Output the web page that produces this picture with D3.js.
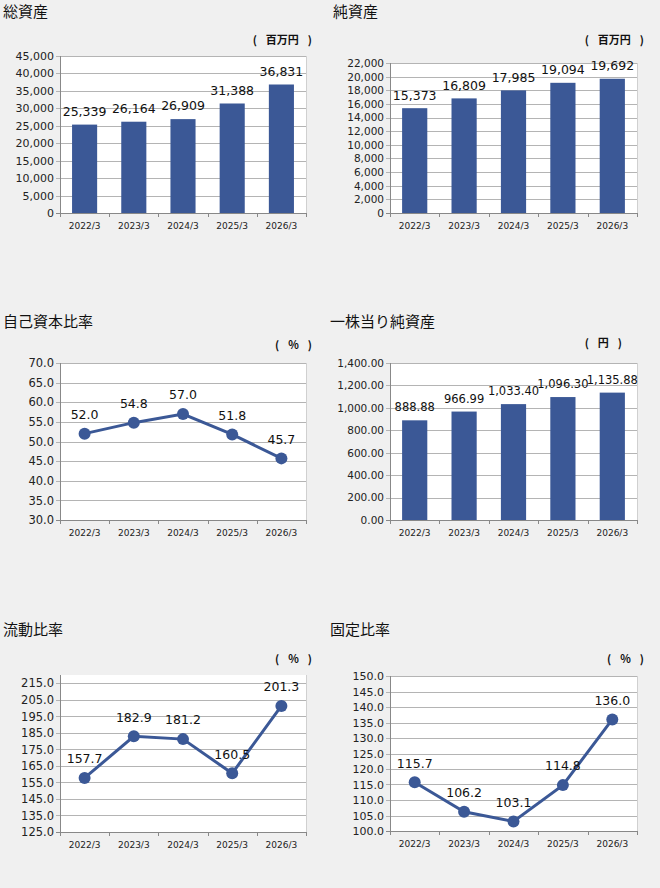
<!DOCTYPE html>
<html>
<head>
<meta charset="utf-8">
<script src="https://cdn.jsdelivr.net/npm/d3@7"></script>
<style>
  body { margin: 0; background: #f0f0f0; }
  svg text { font-family: "DejaVu Sans", "Noto Sans CJK JP", sans-serif; }
  svg text.jp { font-family: "Noto Sans CJK JP", sans-serif; }
</style>
</head>
<body>
<div id="charts"></div>
<script>
// data
var categories = ["2022/3", "2023/3", "2024/3", "2025/3", "2026/3"];
var totalAssets = [25339, 26164, 26909, 31388, 36831];
var netAssets = [15373, 16809, 17985, 19094, 19692];
var equityRatio = [52.0, 54.8, 57.0, 51.8, 45.7];
var bookValuePerShare = [888.88, 966.99, 1033.40, 1096.30, 1135.88];
var currentRatio = [157.7, 182.9, 181.2, 160.5, 201.3];
var fixedRatio = [115.7, 106.2, 103.1, 114.8, 136.0];

var titles = ["総資産", "純資産", "自己資本比率", "一株当り純資産", "流動比率", "固定比率"];
var units = ["百万円", "百万円", "%", "円", "%", "%"];

var barColor = "#3b5896";
var width = 660, height = 888;

var svg = d3.select("#charts").append("svg")
    .attr("width", width)
    .attr("height", height);

// panel layout
var panels = [
    {values: totalAssets, type: "bar", min: 0, max: 45000, step: 5000, dec: 0, tickFont: 11,
     x0: 60, x1: 306, top: 56, bottom: 213, titleX: 3, titleY: 12, unitX: 312, unitY: 40},
    {values: netAssets, type: "bar", min: 0, max: 22000, step: 2000, dec: 0, tickFont: 10.5,
     x0: 390, x1: 637, top: 63, bottom: 213, titleX: 333, titleY: 12, unitX: 644, unitY: 40},
    {values: equityRatio, type: "line", min: 30, max: 70, step: 5, dec: 1, tickFont: 11.5,
     x0: 60, x1: 306, top: 363, bottom: 520, titleX: 3, titleY: 322, unitX: 312, unitY: 345},
    {values: bookValuePerShare, type: "bar", min: 0, max: 1400, step: 200, dec: 2, tickFont: 10.5,
     x0: 390, x1: 637, top: 363, bottom: 520, titleX: 330, titleY: 322, unitX: 622, unitY: 343},
    {values: currentRatio, type: "line", min: 125, max: 220, step: 10, dec: 1, tickFont: 11.5,
     x0: 60, x1: 306, top: 675, bottom: 832, titleX: 3, titleY: 630, unitX: 312, unitY: 659},
    {values: fixedRatio, type: "line", min: 100, max: 150, step: 5, dec: 1, tickFont: 11,
     x0: 390, x1: 637, top: 676, bottom: 831, titleX: 330, titleY: 630, unitX: 644, unitY: 659}
];

    function drawPanel(p, i){
        var g = svg.append("g");

        g.append("text")
            .attr("class", "jp")
            .attr("x", p.titleX)
            .attr("y", p.titleY)
            .attr("dy", "0.35em")
            .style("font-size", "15px")
            .style("fill", "#111")
            .text(titles[i]);

        // unit label, with the wide gaps the original shows
        var u = g.append("text")
            .attr("class", "jp")
            .attr("x", p.unitX)
            .attr("y", p.unitY)
            .attr("dy", "0.35em")
            .attr("text-anchor", "end")
            .style("font-size", "11px")
            .style("font-weight", "bold")
            .style("fill", "#111");
        u.append("tspan").text("(");
        u.append("tspan").attr("dx", 9).text(units[i]);
        u.append("tspan").attr("dx", 9).text(")");

        var x = d3.scaleBand().domain(categories).range([p.x0, p.x1]).paddingInner(0).paddingOuter(0);
        var y = d3.scaleLinear().domain([p.min, p.max]).range([p.bottom, p.top]);

        // plot area
        g.append("rect")
            .attr("x", p.x0).attr("y", p.top)
            .attr("width", p.x1 - p.x0).attr("height", p.bottom - p.top)
            .style("fill", "#fff");

        var ticks = d3.range(p.min, p.max + p.step / 2, p.step);
        var fmt = d3.format(",." + p.dec + "f");

        g.append("g")
            .attr("transform", "translate(" + p.x0 + ",0)")
            .call(d3.axisLeft(y).tickValues(ticks).tickSize(0).tickPadding(6).tickFormat(fmt))
            .call(function(a){ a.select(".domain").remove(); })
            .selectAll("text")
            .style("font-size", p.tickFont + "px")
            .style("font-family", "DejaVu Sans")
            .style("fill", "#222");

        // gridlines
        g.append("g").selectAll("line").data(ticks).enter().append("line")
            .attr("x1", p.x0 - 4).attr("x2", p.x1)
            .attr("y1", function(d){ return Math.round(y(d)) + 0.5; })
            .attr("y2", function(d){ return Math.round(y(d)) + 0.5; })
            .style("stroke", function(d){ return d === p.min ? "#888" : "#b4b4b4"; })
            .style("stroke-width", 1);

        // right border of plot area
        g.append("line")
            .attr("x1", p.x1 + 0.5).attr("x2", p.x1 + 0.5)
            .attr("y1", p.top).attr("y2", p.bottom)
            .style("stroke", "#d0d0d0");

        // y axis line
        g.append("line")
            .attr("x1", p.x0 + 0.5).attr("x2", p.x0 + 0.5)
            .attr("y1", p.top).attr("y2", p.bottom)
            .style("stroke", "#888");

        // category ticks
        var bounds = categories.map(function(c){ return x(c); }).concat([p.x1]);
        g.append("g").selectAll("line").data(bounds).enter().append("line")
            .attr("x1", function(d){ return Math.round(d) + 0.5; })
            .attr("x2", function(d){ return Math.round(d) + 0.5; })
            .attr("y1", p.bottom).attr("y2", p.bottom + 4)
            .style("stroke", "#888");

        g.append("g").selectAll("text").data(categories).enter().append("text")
            .attr("x", function(d){ return x(d) + x.bandwidth() / 2; })
            .attr("y", p.bottom + 13)
            .attr("dy", "0.35em")
            .attr("text-anchor", "middle")
            .style("font-size", "9px")
            .style("fill", "#222")
            .text(function(d){ return d; });

        var dfmt = d3.format(",." + p.dec + "f");

        if(p.type === "bar"){
            var bw = x.bandwidth() * 0.51;
            g.append("g").selectAll("rect").data(p.values).enter().append("rect")
                .attr("x", function(d, k){ return x(categories[k]) + (x.bandwidth() - bw) / 2; })
                .attr("y", function(d){ return y(d); })
                .attr("width", bw)
                .attr("height", function(d){ return p.bottom - y(d); })
                .style("fill", barColor);

            g.append("g").selectAll("text").data(p.values).enter().append("text")
                .attr("x", function(d, k){ return x(categories[k]) + x.bandwidth() / 2; })
                .attr("y", function(d){ return y(d) - 13; })
                .attr("dy", "0.35em")
                .attr("text-anchor", "middle")
                .style("font-size", p.dec === 2 ? "11.5px" : "12.5px")
                .style("fill", "#111")
                .text(function(d){ return dfmt(d); });
        }
        else{
            var line = d3.line()
                .x(function(d, k){ return x(categories[k]) + x.bandwidth() / 2; })
                .y(function(d){ return y(d); });

            g.append("path")
                .datum(p.values)
                .attr("d", line)
                .style("fill", "none")
                .style("stroke", barColor)
                .style("stroke-width", 3);

            g.append("g").selectAll("circle").data(p.values).enter().append("circle")
                .attr("cx", function(d, k){ return x(categories[k]) + x.bandwidth() / 2; })
                .attr("cy", function(d){ return y(d); })
                .attr("r", 6)
                .style("fill", barColor);

            g.append("g").selectAll("text").data(p.values).enter().append("text")
                .attr("x", function(d, k){ return x(categories[k]) + x.bandwidth() / 2; })
                .attr("y", function(d){ return y(d) - 19; })
                .attr("dy", "0.35em")
                .attr("text-anchor", "middle")
                .style("font-size", "12.5px")
                .style("fill", "#111")
                .text(function(d){ return dfmt(d); });
        }
    }

panels.forEach(drawPanel);
</script>
</body>
</html>
